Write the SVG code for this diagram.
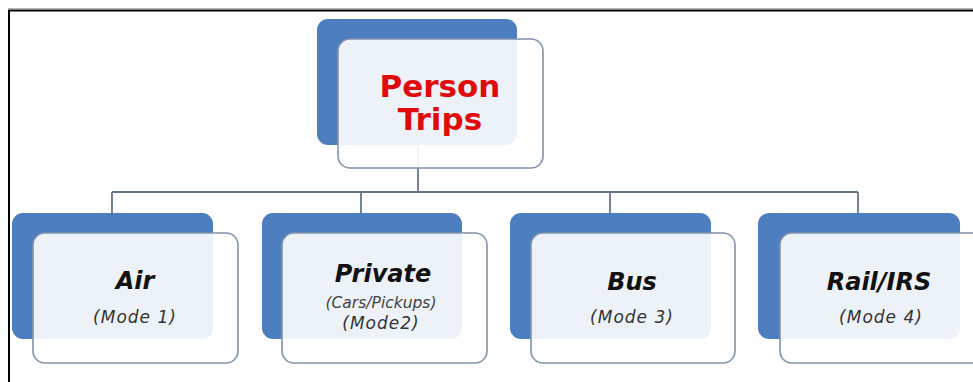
<svg xmlns="http://www.w3.org/2000/svg" width="973" height="382" viewBox="0 0 973 382">
  <style>
    .back { fill: #4d7fc0; }
    .front { fill: #ffffff; fill-opacity: 0.9; stroke: #8393ab; stroke-width: 1.6; }
    .link { fill: none; stroke: #66768a; stroke-width: 1.8; }
    .title { font-family: "DejaVu Sans", Verdana, sans-serif; font-weight: bold; fill: #e00a0a; font-size: 31px; text-anchor: middle; }
    .name { font-family: "DejaVu Sans", Verdana, sans-serif; font-weight: bold; font-style: italic; fill: #111111; font-size: 24px; text-anchor: middle; }
    .mode { font-family: "DejaVu Sans", Verdana, sans-serif; font-style: italic; fill: #333333; font-size: 17px; letter-spacing: 1px; text-anchor: middle; }
    .sub { font-family: "DejaVu Sans", Verdana, sans-serif; font-style: italic; fill: #444444; font-size: 15.5px; text-anchor: middle; }
  </style>
  <rect width="973" height="382" fill="#ffffff"/>

  <!-- page frame -->
  <g id="frame">
    <line x1="8" y1="8.5" x2="973" y2="8.5" stroke="#b4b4b4" stroke-width="1"/>
    <polyline points="9,382 9,10.5 973,10.5" fill="none" stroke="#000000" stroke-width="2"/>
  </g>

  <!-- tree connectors -->
  <g id="connectors" class="link">
    <line x1="418" y1="145" x2="418" y2="192"/>
    <line x1="112" y1="192" x2="858" y2="192"/>
    <line x1="112" y1="192" x2="112" y2="213"/>
    <line x1="361" y1="192" x2="361" y2="213"/>
    <line x1="610" y1="192" x2="610" y2="213"/>
    <line x1="858" y1="192" x2="858" y2="213"/>
  </g>

  <g id="person-trips">
    <rect class="back" x="317" y="19" width="200" height="126" rx="11"/>
    <rect class="front" x="338" y="39" width="205" height="129" rx="12"/>
    <text class="title" x="440" y="97">Person</text>
    <text class="title" x="440" y="130">Trips</text>
  </g>

  <g id="air">
    <rect class="back" x="12" y="213" width="201" height="126" rx="11"/>
    <rect class="front" x="33" y="233" width="205" height="130" rx="12"/>
    <text class="name" x="135" y="289">Air</text>
    <text class="mode" x="135" y="323">(Mode 1)</text>
  </g>

  <g id="private">
    <rect class="back" x="262" y="213" width="200" height="126" rx="11"/>
    <rect class="front" x="282" y="233" width="205" height="130" rx="12"/>
    <text class="name" x="383" y="282">Private</text>
    <text class="sub" x="381" y="308">(Cars/Pickups)</text>
    <text class="mode" x="381" y="329">(Mode2)</text>
  </g>

  <g id="bus">
    <rect class="back" x="510" y="213" width="201" height="126" rx="11"/>
    <rect class="front" x="531" y="233" width="204" height="130" rx="12"/>
    <text class="name" x="632" y="290">Bus</text>
    <text class="mode" x="632" y="323">(Mode 3)</text>
  </g>

  <g id="rail-irs">
    <rect class="back" x="758" y="213" width="202" height="126" rx="11"/>
    <rect class="front" x="780" y="233" width="205" height="130" rx="12"/>
    <text class="name" x="879" y="290">Rail/IRS</text>
    <text class="mode" x="881" y="323">(Mode 4)</text>
  </g>
</svg>
